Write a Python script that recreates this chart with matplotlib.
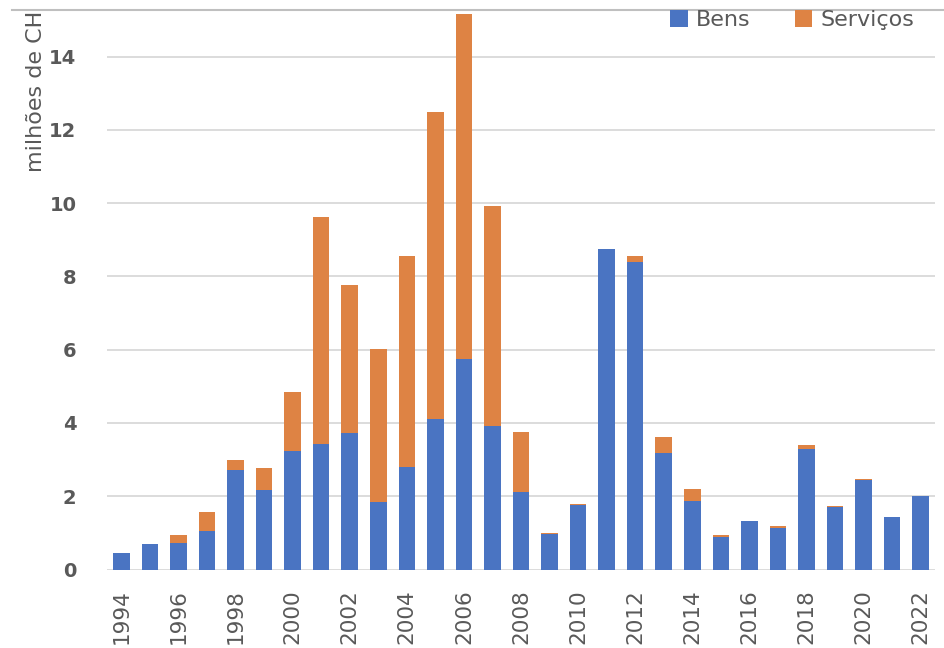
import matplotlib
matplotlib.use("Agg")
import matplotlib.pyplot as plt
from matplotlib.patches import Patch
from matplotlib.lines import Line2D
from matplotlib.transforms import Bbox, TransformedBbox
from matplotlib import font_manager
import numpy as np

years = list(range(1994, 2023))
bens = [0.44, 0.70, 0.72, 1.06, 2.72, 2.17, 3.23, 3.43, 3.73, 1.85, 2.80, 4.11, 5.75, 3.91,
        2.11, 0.97, 1.75, 8.75, 8.40, 3.17, 1.88, 0.90, 1.32, 1.12, 3.28, 1.70, 2.43, 1.43, 2.01]
servicos = [0.00, 0.00, 0.21, 0.51, 0.27, 0.60, 1.61, 6.18, 4.03, 4.18, 5.76, 8.37, 9.40, 6.01,
            1.65, 0.03, 0.03, 0.00, 0.16, 0.45, 0.32, 0.05, 0.00, 0.06, 0.11, 0.02, 0.04, 0.00, 0.00]
yticks = [0, 2, 4, 6, 8, 10, 12, 14]
xtick_labels = [str(y) for y in years[::2]]
series_names = ["Bens", "Serviços"]
ylabel = "milhões de CHF"

blue = "#4A74C2"
orange = "#DE8344"
gray_text = "#595959"
grid_col = "#D9D9D9"

names = {f.name for f in font_manager.fontManager.ttflist}
if "Liberation Sans Narrow" in names:
    xfont, xsize = "Liberation Sans Narrow", 20
else:
    xfont, xsize = "DejaVu Sans", 15.5

W, H = 944, 648
fig = plt.figure(figsize=(W / 100, H / 100), dpi=100)
ax_left, ax_right = 107 / W, 935 / W
ax_bottom = (H - 569.5) / H
ax_top = (H - 10) / H
ax = fig.add_axes([ax_left, ax_bottom, ax_right - ax_left, ax_top - ax_bottom])

x = np.arange(len(years))
ax.bar(x, bens, width=0.58, color=blue, zorder=3)
ax.bar(x, servicos, width=0.58, bottom=bens, color=orange, zorder=3)

ax.set_xlim(-0.5, len(years) - 0.5)
ax.set_ylim(0, (569.5 - 10) / 36.64)
ax.set_yticks(yticks)
ax.set_yticklabels([str(v) for v in yticks], fontsize=14, fontweight="bold", color=gray_text)
ax.set_xticks(x[::2])
ax.set_xticklabels(xtick_labels, rotation=90, fontsize=xsize, family=xfont, color=gray_text)
ax.tick_params(axis="y", length=0, pad=22)
ax.tick_params(axis="x", length=0, pad=14)
for s in ax.spines.values():
    s.set_visible(False)
ax.yaxis.grid(True, color=grid_col, linewidth=1.3, zorder=0)
ax.set_axisbelow(True)

# y label, clipped at top like the reference crop
clip = TransformedBbox(Bbox([[0, 0], [1, (H - 10) / H]]), fig.transFigure)
t = fig.text(36 / W, (H - 172) / H, ylabel, rotation=90, ha="center", va="bottom",
             fontsize=16, color=gray_text)
t.set_clip_on(True)
t.set_clip_box(clip)

# top border line
fig.add_artist(Line2D([12 / W, 1], [(H - 10) / H] * 2, transform=fig.transFigure,
                      color="#BFBFBF", linewidth=1.5))

handles = [Patch(facecolor=blue, edgecolor="none"), Patch(facecolor=orange, edgecolor="none")]
leg = fig.legend(handles, series_names, loc="center", bbox_to_anchor=(792 / W, (H - 20) / H),
                 ncol=2, frameon=False, fontsize=16, handlelength=0.8, handleheight=0.8,
                 handletextpad=0.35, columnspacing=2.0, borderpad=0)
for txt in leg.get_texts():
    txt.set_color(gray_text)

fig.savefig("out.png", dpi=100)
